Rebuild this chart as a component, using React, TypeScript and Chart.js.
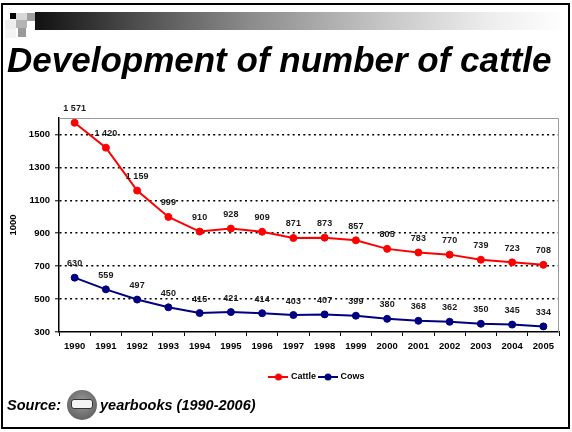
import React, { useEffect, useRef } from "react";
import { Chart, registerables } from "chart.js";

Chart.register(...registerables);

const years = ["1990", "1991", "1992", "1993", "1994", "1995", "1996", "1997", "1998", "1999", "2000", "2001", "2002", "2003", "2004", "2005"];
const cattle = [1571, 1420, 1159, 999, 910, 928, 909, 871, 873, 857, 805, 783, 770, 739, 723, 708];
const cows = [630, 559, 497, 450, 415, 421, 414, 403, 407, 399, 380, 368, 362, 350, 345, 334];
const yTickValues = [300, 500, 700, 900, 1100, 1300, 1500];
const yMin = 300;
const yMax = 1600;
const seriesNames = ["Cattle", "Cows"];
const seriesColors = ["#ff0000", "#000080"];
const yUnitTitle = "1000";
const titleText = "Development of number of cattle";
const sourceLabel = "Source:";
const sourceText = "yearbooks (1990-2006)";

const FONT = "'Liberation Sans', Arial, Helvetica, sans-serif";

function fmt(v: number): string {
  const s = String(v);
  return s.length > 3 ? s.slice(0, s.length - 3) + " " + s.slice(-3) : s;
}

function makeIcon(color: string): HTMLCanvasElement {
  const c = document.createElement("canvas");
  c.width = 20;
  c.height = 8;
  const ctx = c.getContext("2d")!;
  ctx.strokeStyle = color;
  ctx.lineWidth = 2;
  ctx.beginPath();
  ctx.moveTo(0, 4);
  ctx.lineTo(20, 4);
  ctx.stroke();
  ctx.fillStyle = color;
  ctx.beginPath();
  ctx.arc(10, 4, 3.5, 0, Math.PI * 2);
  ctx.fill();
  return c;
}

const framePlugin = {
  id: "frame",
  beforeDatasetsDraw(chart: any) {
    const { ctx, chartArea } = chart;
    const { left, right, top, bottom } = chartArea;
    ctx.save();
    ctx.strokeStyle = "#9a9a9a";
    ctx.lineWidth = 1;
    ctx.beginPath();
    ctx.moveTo(left, top + 0.5);
    ctx.lineTo(right - 0.5, top + 0.5);
    ctx.lineTo(right - 0.5, bottom);
    ctx.stroke();
    ctx.restore();
  },
};

const valueLabelPlugin = {
  id: "valueLabels",
  afterDatasetsDraw(chart: any) {
    const { ctx } = chart;
    ctx.save();
    ctx.font = `bold 9px ${FONT}`;
    ctx.fillStyle = "#1a1a1a";
    ctx.textAlign = "center";
    ctx.textBaseline = "middle";
    chart.data.datasets.forEach((ds: any, di: number) => {
      const meta = chart.getDatasetMeta(di);
      meta.data.forEach((pt: any, i: number) => {
        ctx.fillText(fmt(ds.data[i]), pt.x, pt.y - 14);
      });
    });
    ctx.restore();
  },
};

const legendShiftPlugin = {
  id: "legendShift",
  afterLayout(chart: any) {
    if (chart.legend) {
      chart.legend.left += 38;
      chart.legend.right += 38;
    }
  },
};

function ChartCanvas() {
  const ref = useRef<HTMLCanvasElement | null>(null);
  useEffect(() => {
    if (!ref.current) return;
    const icons = seriesColors.map(makeIcon);
    const tickFont = { family: FONT, size: 9.5, weight: "bold" as const };
    const chart = new Chart(ref.current, {
      type: "line",
      data: {
        labels: years,
        datasets: [
          {
            label: seriesNames[0],
            data: cattle,
            borderColor: seriesColors[0],
            backgroundColor: seriesColors[0],
            pointBackgroundColor: seriesColors[0],
            pointBorderColor: seriesColors[0],
            borderWidth: 2,
            pointRadius: 3.5,
            pointBorderWidth: 1,
            tension: 0,
            fill: false,
          },
          {
            label: seriesNames[1],
            data: cows,
            borderColor: seriesColors[1],
            backgroundColor: seriesColors[1],
            pointBackgroundColor: seriesColors[1],
            pointBorderColor: seriesColors[1],
            borderWidth: 2,
            pointRadius: 3.5,
            pointBorderWidth: 1,
            tension: 0,
            fill: false,
          },
        ],
      },
      options: {
        animation: false,
        responsive: false,
        layout: { padding: { left: 0, right: 13, top: 118, bottom: 40.5 } },
        plugins: {
          legend: {
            display: true,
            position: "bottom",
            labels: {
              usePointStyle: true,
              pointStyleWidth: 16,
              padding: 4,
              color: "#000",
              font: { family: FONT, size: 9, weight: "bold" },
              generateLabels: (c: any) =>
                c.data.datasets.map((ds: any, i: number) => ({
                  text: ds.label,
                  pointStyle: icons[i],
                  fillStyle: seriesColors[i],
                  strokeStyle: seriesColors[i],
                  lineWidth: 0,
                  hidden: false,
                  datasetIndex: i,
                  fontColor: "#000",
                })),
            },
          },
          tooltip: { enabled: false },
        },
        scales: {
          x: {
            type: "category",
            offset: true,
            grid: {
              offset: true,
              drawOnChartArea: false,
              drawTicks: true,
              tickLength: 4,
              tickColor: "#000",
              tickWidth: 1,
            },
            border: { color: "#000", width: 1.5 },
            ticks: { font: tickFont, color: "#000", padding: 5, maxRotation: 0, autoSkip: false },
            afterFit: (s: any) => {
              s.height = 36.5;
            },
          },
          y: {
            type: "linear",
            min: yMin,
            max: yMax,
            afterBuildTicks: (s: any) => {
              s.ticks = yTickValues.map((v) => ({ value: v }));
            },
            grid: {
              color: (ctx: any) => (ctx.tick && ctx.tick.value === yMin ? "rgba(0,0,0,0)" : "#000"),
              lineWidth: 1.6,
              drawTicks: true,
              tickLength: 4,
              tickColor: "#000",
              tickWidth: 1,
            },
            border: { color: "#000", width: 1.5, dash: [2, 3.3] },
            ticks: { font: tickFont, color: "#000", padding: 5, callback: (v: any) => String(v) },
            title: {
              display: true,
              text: yUnitTitle,
              color: "#000",
              font: { family: FONT, size: 9.5, weight: "bold" },
              padding: { top: 8, bottom: 0 },
            },
            afterFit: (s: any) => {
              s.width = 59;
            },
          },
        },
      } as any,
      plugins: [framePlugin, valueLabelPlugin, legendShiftPlugin],
    });
    return () => chart.destroy();
  }, []);
  return <canvas ref={ref} width={572} height={432} style={{ position: "absolute", left: 0, top: 0, width: 572, height: 432 }} />;
}

const sq = (left: number, top: number, w: number, h: number, bg: string) => (
  <div style={{ position: "absolute", left, top, width: w, height: h, background: bg }} />
);

export default function App() {
  useEffect(() => {
    document.body.style.margin = "0";
  }, []);
  return (
    <div style={{ position: "absolute", left: 0, top: 0, width: 572, height: 432, background: "#fff", overflow: "hidden" }}>
      <ChartCanvas />
      {/* header gradient bar */}
      <div
        style={{
          position: "absolute",
          left: 35,
          top: 12,
          width: 530,
          height: 18,
          background: "linear-gradient(90deg, #111 0%, #4a4a4a 18%, #8a8a8a 40%, #c4c4c4 65%, #ececec 85%, #ffffff 100%)",
        }}
      />
      {/* decorative squares */}
      {sq(5, 20, 11, 9, "#eeeeee")}
      {sq(5, 29, 11, 9, "#f4f4f4")}
      {sq(16, 13, 11, 7, "#d8d8d8")}
      {sq(27, 13, 8, 8, "#a0a0a0")}
      {sq(16, 20, 11, 8, "#b4b4b4")}
      {sq(18, 28, 8, 9, "#9a9a9a")}
      {sq(10, 13, 6, 6, "#000")}
      {/* title */}
      <div
        style={{
          position: "absolute",
          left: 7,
          top: 42,
          fontFamily: FONT,
          fontWeight: "bold",
          fontStyle: "italic",
          fontSize: 35,
          lineHeight: "35px",
          whiteSpace: "nowrap",
          color: "#000",
        }}
      >
        {titleText}
      </div>
      {/* source line */}
      <div
        style={{
          position: "absolute",
          left: 7,
          top: 398,
          fontFamily: FONT,
          fontWeight: "bold",
          fontStyle: "italic",
          fontSize: 14.5,
          lineHeight: "14.5px",
          whiteSpace: "nowrap",
          color: "#000",
        }}
      >
        {sourceLabel}
      </div>
      <div
        style={{
          position: "absolute",
          left: 67,
          top: 390,
          width: 30,
          height: 30,
          borderRadius: "50%",
          background: "radial-gradient(circle at 50% 40%, #9a9a9a 0%, #6e6e6e 60%, #555 100%)",
        }}
      >
        <div
          style={{
            position: "absolute",
            left: 4,
            top: 9,
            width: 22,
            height: 10,
            borderRadius: 3,
            background: "#f4f4f4",
            border: "1px solid #333",
            boxSizing: "border-box",
          }}
        />
      </div>
      <div
        style={{
          position: "absolute",
          left: 100,
          top: 398,
          fontFamily: FONT,
          fontWeight: "bold",
          fontStyle: "italic",
          fontSize: 14.5,
          lineHeight: "14.5px",
          whiteSpace: "nowrap",
          color: "#000",
        }}
      >
        {sourceText}
      </div>
      {/* page frame */}
      <div
        style={{
          position: "absolute",
          left: 1,
          top: 3,
          width: 569,
          height: 426,
          border: "2px solid #000",
          boxSizing: "border-box",
          pointerEvents: "none",
        }}
      />
    </div>
  );
}
